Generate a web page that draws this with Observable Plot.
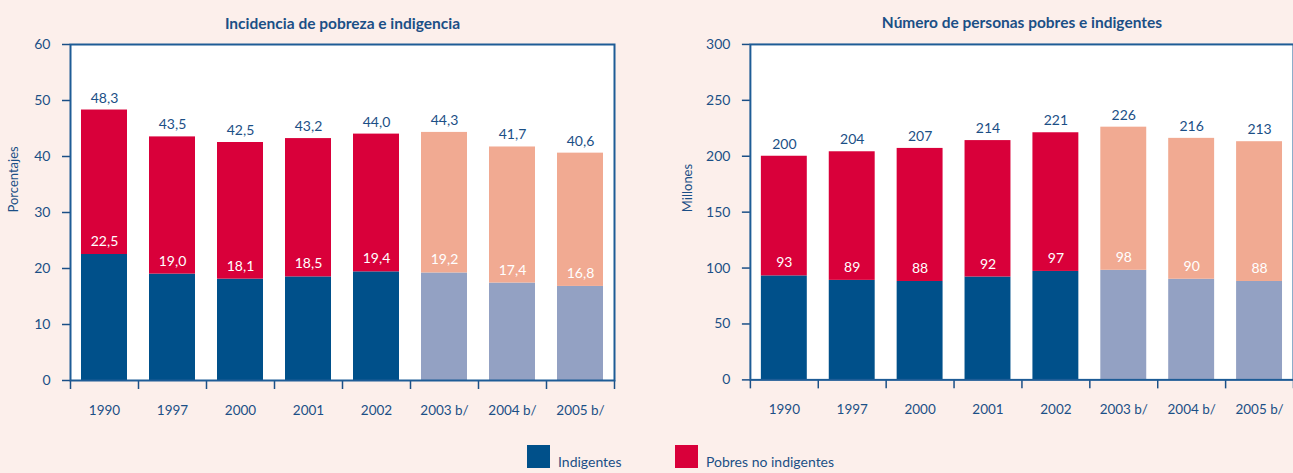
<!DOCTYPE html>
<html>
<head>
<meta charset="utf-8">
<script src="https://cdn.jsdelivr.net/npm/d3@7"></script>
<script src="https://cdn.jsdelivr.net/npm/@observablehq/plot@0.6"></script>
<style>
  html, body { margin: 0; padding: 0; background: #fcefeb; overflow: hidden; }
  #wrap { position: relative; width: 1293px; height: 473px; font-family: Lato, "Open Sans", sans-serif; color: #1b4f86; }
  .chart { position: absolute; top: 0; }
  .legend { position: absolute; top: 445px; display: flex; align-items: flex-end; font-size: 14px; }
  .sw { width: 23px; height: 23px; display: inline-block; margin-right: 8px; }
</style>
</head>
<body>
<div id="wrap">
  <div class="chart" id="left" style="left:0px"></div>
  <div class="chart" id="right" style="left:680px"></div>
  <div class="legend" style="left:527px"><span class="sw" style="background:#00508a"></span><span style="line-height:12px">Indigentes</span></div>
  <div class="legend" style="left:675px"><span class="sw" style="background:#d9003a"></span><span style="line-height:12px">Pobres no indigentes</span></div>
</div>
<script>
// ---- data ----
const years = ["1990", "1997", "2000", "2001", "2002", "2003 b/", "2004 b/", "2005 b/"];
const projected = [false, false, false, false, false, true, true, true];
const pctTotal = [48.3, 43.5, 42.5, 43.2, 44.0, 44.3, 41.7, 40.6];
const pctIndig = [22.5, 19.0, 18.1, 18.5, 19.4, 19.2, 17.4, 16.8];
const millTotal = [200, 204, 207, 214, 221, 226, 216, 213];
const millIndig = [93, 89, 88, 92, 97, 98, 90, 88];
const seriesNames = ["Indigentes", "Pobres no indigentes"];
const leftTitle = "Incidencia de pobreza e indigencia";
const rightTitle = "Número de personas pobres e indigentes";
const leftYLabel = "Porcentajes";
const rightYLabel = "Millones";
const leftTicks = [0, 10, 20, 30, 40, 50, 60];
const rightTicks = [0, 50, 100, 150, 200, 250, 300];

const TEXT = "#1b4f86";
const LINE = "#1e5c96";
const colorDomain = ["Indigentes", "Pobres no indigentes", "Indigentes (proy.)", "Pobres no indigentes (proy.)"];
const colorRange = ["#00508a", "#d9003a", "#93a1c3", "#f1aa92"];

function rowsFor(total, indig) {
  const rows = [];
  years.forEach((y, i) => {
    const suf = projected[i] ? " (proy.)" : "";
    rows.push({year: y, serie: seriesNames[0] + suf, y1: 0, y2: indig[i]});
    rows.push({year: y, serie: seriesNames[1] + suf, y1: indig[i], y2: total[i]});
  });
  return rows;
}

function makeChart({total, indig, ticks, title, ylabel, fmt, width, marginRight, labelDx}) {
  const marginLeft = 70;
  const step = (width - marginLeft - marginRight) / years.length;
  const rows = rowsFor(total, indig);
  const tot = years.map((y, i) => ({year: y, v: total[i]}));
  const ind = years.map((y, i) => ({year: y, v: indig[i]}));
  return Plot.plot({
    width, height: 430,
    marginLeft, marginRight, marginTop: 44, marginBottom: 50,
    style: {background: "transparent", fontFamily: "Lato, 'Open Sans', sans-serif", fontSize: "13px", color: TEXT, overflow: "visible"},
    x: {domain: years, paddingInner: 0.33, paddingOuter: 0.165, label: null},
    y: {domain: [ticks[0], ticks[ticks.length - 1]], label: null},
    color: {domain: colorDomain, range: colorRange},
    marks: [
      Plot.frame({fill: "white"}),
      Plot.barY(rows, {x: "year", y1: "y1", y2: "y2", fill: "serie"}),
      Plot.text(tot, {x: "year", y: "v", text: d => fmt(d.v), dy: -12, fill: TEXT, fontSize: 14}),
      Plot.text(ind, {x: "year", y: "v", text: d => fmt(d.v), dy: -13, fill: "white", fontSize: 14}),
      Plot.axisY({ticks, tickSize: 8, tickPadding: 12, strokeWidth: 1.5, fontSize: 14, label: null}),
      Plot.axisX({tickSize: 0, tickPadding: 25, fontSize: 13.5, label: null}),
      Plot.axisX({tickSize: 9, text: null, dx: -step / 2, strokeWidth: 1.5, label: null}),
      Plot.axisX({ticks: [years[years.length - 1]], tickSize: 9, text: null, dx: step / 2, strokeWidth: 1.5, label: null}),
      Plot.frame({stroke: LINE, strokeWidth: 2}),
      Plot.text([title], {frameAnchor: "top", dy: -27, fontWeight: "bold", fontSize: 15.5, fill: TEXT, letterSpacing: "0.3px"}),
      Plot.text([ylabel], {frameAnchor: "left", rotate: -90, dx: labelDx, fontSize: 13, fill: TEXT})
    ]
  });
}

const fmt1 = v => d3.format(".1f")(v).replace(".", ",");
const fmt0 = v => d3.format("d")(v);

document.getElementById("left").appendChild(makeChart({
  total: pctTotal, indig: pctIndig, ticks: leftTicks, title: leftTitle, ylabel: leftYLabel,
  fmt: fmt1, width: 640, marginRight: 26, labelDx: -57
}));
document.getElementById("right").appendChild(makeChart({
  total: millTotal, indig: millIndig, ticks: rightTicks, title: rightTitle, ylabel: rightYLabel,
  fmt: fmt0, width: 614, marginRight: 0, labelDx: -63
}));
</script>
</body>
</html>
